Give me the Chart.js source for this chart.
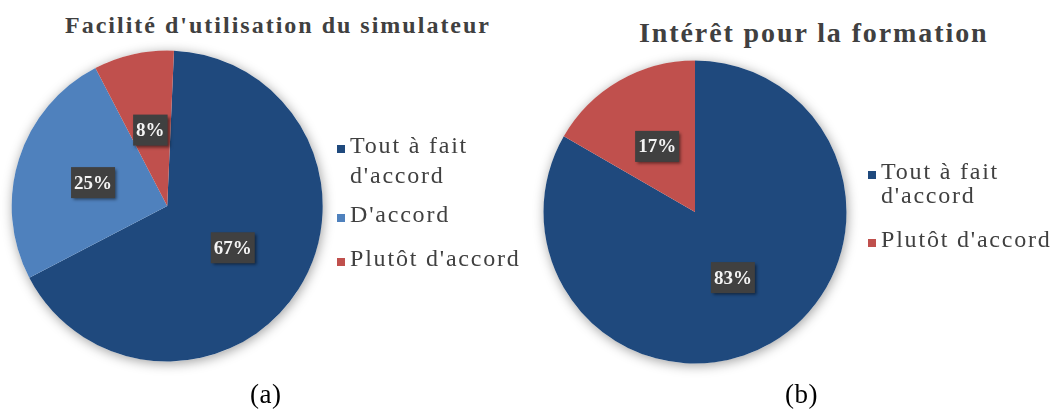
<!DOCTYPE html>
<html lang="fr">
<head>
<meta charset="utf-8">
<title>Enquête simulateur</title>
<script src="https://cdn.jsdelivr.net/npm/chart.js@4.4.1/dist/chart.umd.min.js"></script>
<style>
  html, body { margin: 0; padding: 0; background: #fff; }
  body { width: 1059px; height: 410px; position: relative; overflow: hidden;
         font-family: "Liberation Serif", "DejaVu Serif", serif; color: #404040; }
  canvas { position: absolute; }
  .title { position: absolute; font-weight: bold; white-space: nowrap; line-height: 1; color: #404040; }
  .legend { position: absolute; font-size: 24px; letter-spacing: 1.8px; }
  .legend .item { position: relative; padding-left: 13px; width: 185px; }
  .legend .box { position: absolute; left: 0; width: 8px; height: 8px; }
  .caption { position: absolute; font-size: 27px; line-height: 1; color: #000; letter-spacing: 0.5px; }
</style>
</head>
<body>

<div class="title" id="titleA" style="left:65px; top:13px; font-size:24px; letter-spacing:2px;"></div>
<div class="title" id="titleB" style="left:639px; top:19px; font-size:28px; letter-spacing:1.9px;"></div>

<canvas id="pieA" width="360" height="360" style="left:0; top:30px;"></canvas>
<canvas id="pieB" width="360" height="360" style="left:530px; top:40px;"></canvas>

<div class="legend" id="legendA" style="left:337px; top:130px; line-height:30px;"></div>
<div class="legend" id="legendB" style="left:868px; top:159px; line-height:24px;"></div>

<div class="caption" style="left:250px; top:381px;">(a)</div>
<div class="caption" style="left:785px; top:381px;">(b)</div>

<script>
// Facilité d'utilisation du simulateur (nombre de réponses)
const easeTitle = "Facilité d'utilisation du simulateur";
const easeLabels = ["Tout à fait d'accord", "D'accord", "Plutôt d'accord"];
const easeCounts = [8, 3, 1];
const easeColors = ["#1F497D", "#4F81BD", "#C0504D"];

// Intérêt pour la formation
const interestTitle = "Intérêt pour la formation";
const interestLabels = ["Tout à fait d'accord", "Plutôt d'accord"];
const interestCounts = [10, 2];
const interestColors = ["#1F497D", "#C0504D"];

// soft shadow under the whole pie
const pieShadow = {
  id: 'pieShadow',
  beforeDatasetsDraw(chart) {
    const arc = chart.getDatasetMeta(0).data[0];
    if (!arc) return;
    const ctx = chart.ctx;
    ctx.save();
    ctx.shadowColor = 'rgba(0,0,0,0.38)';
    ctx.shadowBlur = 12;
    ctx.shadowOffsetX = 1;
    ctx.shadowOffsetY = 2;
    ctx.fillStyle = '#ffffff';
    ctx.beginPath();
    ctx.arc(arc.x, arc.y, arc.outerRadius, 0, Math.PI * 2);
    ctx.fill();
    ctx.restore();
  }
};

// percentage tags in dark boxes at the middle of each slice
const percentTags = {
  id: 'percentTags',
  afterDatasetsDraw(chart) {
    const ctx = chart.ctx;
    const values = chart.data.datasets[0].data;
    const total = values.reduce((a, b) => a + b, 0);
    chart.getDatasetMeta(0).data.forEach((arc, i) => {
      const pos = arc.tooltipPosition();
      const text = Math.round(values[i] / total * 100) + '%';
      ctx.save();
      ctx.font = 'bold 19px "Liberation Serif", serif';
      const w = ctx.measureText(text).width + 6;
      const h = 31;
      ctx.shadowColor = 'rgba(0,0,0,0.5)';
      ctx.shadowBlur = 3;
      ctx.shadowOffsetX = 2;
      ctx.shadowOffsetY = 2;
      ctx.fillStyle = '#404040';
      ctx.fillRect(pos.x - w / 2, pos.y - h / 2, w, h);
      ctx.shadowColor = 'transparent';
      ctx.fillStyle = '#f4f4f4';
      ctx.textAlign = 'center';
      ctx.textBaseline = 'middle';
      ctx.fillText(text, pos.x, pos.y + 1);
      ctx.restore();
    });
  }
};

function makePie(id, labels, counts, colors, rotation, padding) {
  return new Chart(document.getElementById(id), {
    type: 'pie',
    data: {
      labels: labels,
      datasets: [{
        data: counts,
        backgroundColor: colors,
        borderWidth: 0
      }]
    },
    options: {
      responsive: false,
      animation: false,
      rotation: rotation,
      layout: { padding: padding },
      plugins: {
        legend: { display: false },
        tooltip: { enabled: false }
      }
    },
    plugins: [pieShadow, percentTags]
  });
}

function makeLegend(id, labels, colors) {
  const el = document.getElementById(id);
  labels.forEach((label, i) => {
    const item = document.createElement('div');
    item.className = 'item';
    const box = document.createElement('span');
    box.className = 'box';
    box.style.background = colors[i];
    item.appendChild(box);
    item.appendChild(document.createTextNode(label));
    el.appendChild(item);
  });
}

document.getElementById('titleA').textContent = easeTitle;
document.getElementById('titleB').textContent = interestTitle;

makePie('pieA', easeLabels, easeCounts, easeColors, 2.5,
        { left: 11.7, right: 37.3, top: 20.5, bottom: 28.5 });
makePie('pieB', interestLabels, interestCounts, interestColors, 0,
        { left: 13.5, right: 43.5, top: 20.5, bottom: 36.5 });

makeLegend('legendA', easeLabels, easeColors);
makeLegend('legendB', interestLabels, interestColors);

// legend boxes sit on the first text baseline of each entry
document.querySelectorAll('#legendA .box').forEach(b => b.style.top = '15px');
document.querySelectorAll('#legendB .box').forEach(b => b.style.top = '12px');
// spacing between entries
const itemsA = document.querySelectorAll('#legendA .item');
itemsA[1].style.marginTop = '9px';
itemsA[2].style.marginTop = '14px';
document.querySelectorAll('#legendB .item')[1].style.marginTop = '20px';
</script>
</body>
</html>
